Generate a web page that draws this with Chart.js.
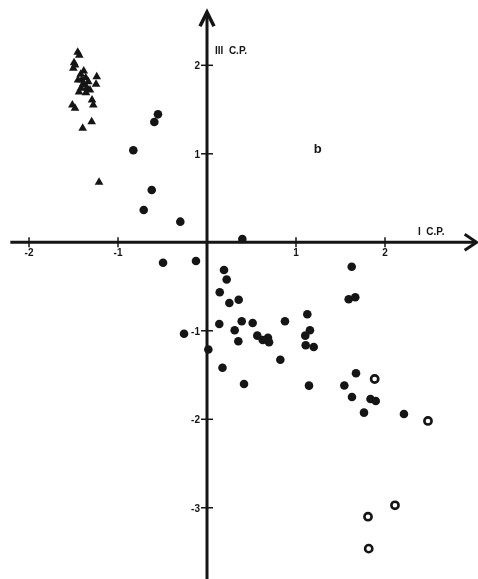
<!DOCTYPE html>
<html>
<head>
<meta charset="utf-8">
<script src="https://cdn.jsdelivr.net/npm/chart.js@4.4.1/dist/chart.umd.min.js"></script>
<style>
  html, body { margin: 0; padding: 0; background: #ffffff; overflow: hidden; }
  canvas { display: block; }
</style>
</head>
<body>
<canvas id="scoreChart" width="478" height="579"></canvas>
<script>
// component scores: I C.P. (x) against III C.P. (y)
const triX = [-1.453, -1.435, -1.494, -1.483, -1.502, -1.385, -1.419, -1.239, -1.363, -1.408,
              -1.334, -1.247, -1.379, -1.416, -1.315, -1.360, -1.292, -1.278, -1.513, -1.483,
              -1.296, -1.397, -1.213, -1.449, -1.393, -1.348, -1.438];
const triY = [2.147, 2.115, 2.029, 2.003, 1.966, 1.936, 1.898, 1.871, 1.860, 1.834,
              1.815, 1.785, 1.777, 1.740, 1.721, 1.690, 1.608, 1.551, 1.551, 1.514,
              1.363, 1.288, 0.678, 1.834, 1.790, 1.743, 1.698];

const dotX = [-0.551, -0.592, -0.828, -0.621, -0.711, -0.300, 0.397, -0.494, -0.124, 0.191,
              0.221, 0.143, 0.251, 0.356, 0.138, 0.390, 0.513, 0.311, -0.258, 0.352,
              0.565, 0.626, 0.685, 0.697, 0.015, 0.174, 0.416, 0.876, 1.127, 1.157,
              1.104, 1.109, 1.199, 0.824, 1.146, 1.626, 1.592, 1.666, 1.674, 1.543,
              1.629, 1.837, 1.896, 1.764, 2.213];
const dotY = [1.446, 1.359, 1.040, 0.591, 0.365, 0.233, 0.037, -0.231, -0.211, -0.313,
              -0.420, -0.565, -0.686, -0.649, -0.923, -0.893, -0.912, -0.994, -1.033, -1.119,
              -1.055, -1.104, -1.078, -1.130, -1.211, -1.417, -1.601, -0.893, -0.814, -0.994,
              -1.055, -1.164, -1.183, -1.327, -1.620, -0.276, -0.644, -0.621, -1.480, -1.618,
              -1.748, -1.771, -1.793, -1.925, -1.940];

const ringX = [1.884, 2.483, 2.112, 1.809, 1.817];
const ringY = [-1.545, -2.019, -2.972, -3.101, -3.462];

const xTicks = [-2, -1, 1, 2];
const yTicks = [2, 1, -1, -2, -3];

const xLimits = [-2.326, 3.045];
const yLimits = [-3.805, 2.738];
const xAxisSpan = [-2.21, 3.03];
const yAxisSpan = [-3.805, 2.6];

const ink = '#151515';

function pairs(xs, ys) {
    return xs.map((v, i) => ({ x: v, y: ys[i] }));
}

const crossAxes = {
    id: 'crossAxes',
    beforeDatasetsDraw(chart) {
        const { ctx, scales: { x, y } } = chart;
        const x0 = x.getPixelForValue(0);
        const y0 = y.getPixelForValue(0);
        ctx.save();
        ctx.strokeStyle = ink;
        ctx.fillStyle = ink;

        // the two axes
        ctx.lineWidth = 3;
        ctx.beginPath();
        ctx.moveTo(x.getPixelForValue(xAxisSpan[0]), y0);
        ctx.lineTo(x.getPixelForValue(xAxisSpan[1]) - 2, y0);
        ctx.moveTo(x0, y.getPixelForValue(yAxisSpan[0]));
        ctx.lineTo(x0, y.getPixelForValue(yAxisSpan[1]) + 2);
        ctx.stroke();

        // arrow heads
        const xe = x.getPixelForValue(xAxisSpan[1]);
        const ye = y.getPixelForValue(yAxisSpan[1]);
        ctx.lineWidth = 3;
        ctx.lineJoin = 'miter';
        ctx.beginPath();
        ctx.moveTo(xe - 12, y0 - 8);
        ctx.lineTo(xe, y0);
        ctx.lineTo(xe - 12, y0 + 8);
        ctx.stroke();
        ctx.lineWidth = 3.5;
        ctx.beginPath();
        ctx.moveTo(x0 - 7, ye + 14);
        ctx.lineTo(x0, ye);
        ctx.lineTo(x0 + 7, ye + 14);
        ctx.stroke();

        // tick marks and labels
        ctx.lineWidth = 1.5;
        ctx.font = 'bold 10px "Liberation Sans", Arial, sans-serif';
        ctx.textAlign = 'center';
        ctx.textBaseline = 'top';
        xTicks.forEach(t => {
            const px = x.getPixelForValue(t);
            ctx.beginPath();
            ctx.moveTo(px, y0 - 5);
            ctx.lineTo(px, y0 + 5);
            ctx.stroke();
            ctx.fillText(String(t), px, y0 + 6);
        });
        ctx.textAlign = 'right';
        ctx.textBaseline = 'middle';
        yTicks.forEach(t => {
            const py = y.getPixelForValue(t);
            ctx.beginPath();
            ctx.moveTo(x0 - 6, py);
            ctx.lineTo(x0 + 6, py);
            ctx.stroke();
            ctx.fillText(String(t), x0 - 7, py + 1);
        });

        // axis titles and panel letter
        ctx.font = 'bold 10px "Liberation Sans", Arial, sans-serif';
        ctx.textAlign = 'left';
        ctx.textBaseline = 'middle';
        ctx.fillText('III  C.P.', x0 + 8, y.getPixelForValue(2.16));
        ctx.fillText('I  C.P.', x.getPixelForValue(2.37), y0 - 10);
        ctx.font = 'bold 13px "Liberation Sans", Arial, sans-serif';
        ctx.fillText('b', x.getPixelForValue(1.2), y.getPixelForValue(1.05));
        ctx.restore();
    }
};

new Chart(document.getElementById('scoreChart').getContext('2d'), {
    type: 'scatter',
    data: {
        datasets: [
            {
                data: pairs(triX, triY),
                pointStyle: 'triangle',
                pointRadius: 5,
                backgroundColor: ink,
                borderColor: ink,
                borderWidth: 0
            },
            {
                data: pairs(dotX, dotY),
                pointStyle: 'circle',
                pointRadius: 4.3,
                backgroundColor: ink,
                borderColor: ink,
                borderWidth: 0
            },
            {
                data: pairs(ringX, ringY),
                pointStyle: 'circle',
                pointRadius: 3.6,
                backgroundColor: '#ffffff',
                borderColor: ink,
                borderWidth: 2.6
            }
        ]
    },
    plugins: [crossAxes],
    options: {
        responsive: false,
        animation: false,
        layout: { padding: 0, autoPadding: false },
        plugins: {
            legend: { display: false },
            tooltip: { enabled: false }
        },
        scales: {
            x: { type: 'linear', min: xLimits[0], max: xLimits[1], display: false },
            y: { type: 'linear', min: yLimits[0], max: yLimits[1], display: false }
        }
    }
});
</script>
</body>
</html>
